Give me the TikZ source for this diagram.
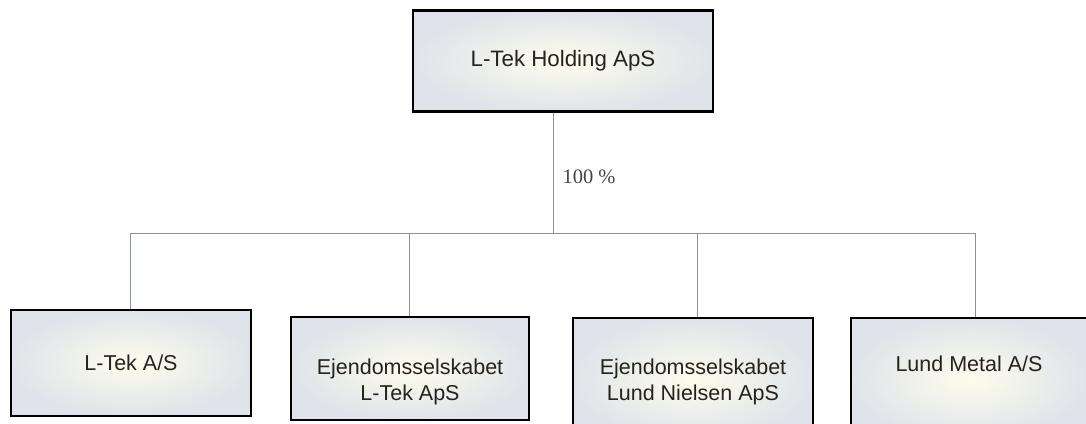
\documentclass[tikz,border=0pt]{standalone}
\usepackage{fontspec}
\setmainfont{Liberation Sans}
\newfontfamily\labelfont{Liberation Serif}
\definecolor{linec}{RGB}{135,145,162}
\definecolor{txtc}{RGB}{38,34,30}
\definecolor{boxin}{RGB}{253,252,236}
\definecolor{boxout}{RGB}{224,228,234}
\begin{document}
\begin{tikzpicture}[x=1pt,y=-1pt,
  entity/.style={draw=black, line width=2.4pt, inner color=boxin, outer color=boxout,
    minimum width=#1, align=center, text=txtc, font=\fontsize{21.5}{25.5}\selectfont},
  entity/.default=240pt,
  conn/.style={draw=linec, line width=1pt}]
\useasboundingbox (0,0) rectangle (1086,423);
\fill[white] (0,0) rectangle (1086,423);
\node[entity=300pt, minimum height=101pt, font=\fontsize{22.3}{26}\selectfont] (top) at (563,61) {L-Tek Holding ApS};
\node[entity=240pt, minimum height=106pt] (a) at (131,363) {L-Tek A/S};
\node[entity=238pt, minimum height=103pt, text height=70pt, text depth=7pt] (b) at (410,368.5) {Ejendomsselskabet\\L-Tek ApS};
\node[entity=240pt, minimum height=122pt, text height=50pt, text depth=8pt] (c) at (693,379) {Ejendomsselskabet\\Lund Nielsen ApS};
\node[entity=236pt, minimum height=122pt, text height=16pt, text depth=32pt] (d) at (969,379) {Lund Metal A/S};
\coordinate (trunk) at (553,233);
\coordinate (ja) at (130,233);
\coordinate (jb) at (409,233);
\coordinate (jc) at (697,233);
\coordinate (jd) at (975,233);
\draw[conn] (top.south -| trunk) -- (trunk);
\draw[conn] (ja) -- (jd);
\draw[conn] (ja) -- (ja |- a.north);
\draw[conn] (jb) -- (jb |- b.north);
\draw[conn] (jc) -- (jc |- c.north);
\draw[conn] (jd) -- (jd |- d.north);
\node[anchor=west, text=txtc!85, font=\labelfont\fontsize{20.5}{24}\selectfont] (pct) at (559,177) {100 \%};
\end{tikzpicture}
\end{document}
